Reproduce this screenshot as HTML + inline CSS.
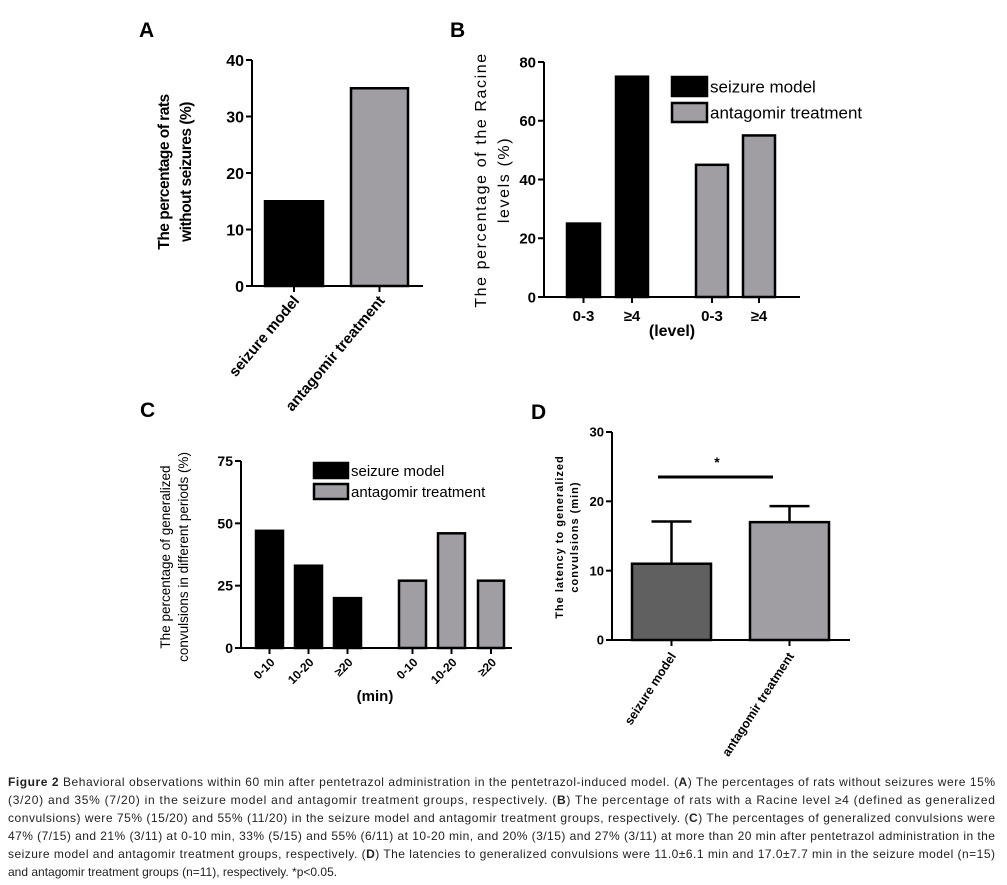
<!DOCTYPE html>
<html><head><meta charset="utf-8">
<style>
html,body{margin:0;padding:0;background:#fff;}
svg{display:block;font-family:"Liberation Sans",sans-serif;}
</style></head>
<body>
<svg id="fig" width="1007" height="885" viewBox="0 0 1007 885" xmlns="http://www.w3.org/2000/svg">
<rect x="0" y="0" width="1007" height="885" fill="#fff"/>
<g id="gA"></g>
<g id="gB"></g>
<g id="gC"></g>
<g id="gD"></g>
<text x="139" y="37" font-size="21" font-weight="bold">A</text>
<text x="450" y="37" font-size="21" font-weight="bold">B</text>
<text x="140" y="417" font-size="21" font-weight="bold">C</text>
<text x="531" y="419" font-size="21" font-weight="bold">D</text>
<g font-size="12" fill="#222">
<text x="8" y="786" textLength="987" lengthAdjust="spacing"><tspan font-weight="bold">Figure 2</tspan> Behavioral observations within 60 min after pentetrazol administration in the pentetrazol-induced model. (<tspan font-weight="bold">A</tspan>) The percentages of rats without seizures were 15%</text>
<text x="8" y="804" textLength="987" lengthAdjust="spacing">(3/20) and 35% (7/20) in the seizure model and antagomir treatment groups, respectively. (<tspan font-weight="bold">B</tspan>) The percentage of rats with a Racine level ≥4 (defined as generalized</text>
<text x="8" y="822" textLength="987" lengthAdjust="spacing">convulsions) were 75% (15/20) and 55% (11/20) in the seizure model and antagomir treatment groups, respectively. (<tspan font-weight="bold">C</tspan>) The percentages of generalized convulsions were</text>
<text x="8" y="840" textLength="987" lengthAdjust="spacing">47% (7/15) and 21% (3/11) at 0-10 min, 33% (5/15) and 55% (6/11) at 10-20 min, and 20% (3/15) and 27% (3/11) at more than 20 min after pentetrazol administration in the</text>
<text x="8" y="858" textLength="987" lengthAdjust="spacing">seizure model and antagomir treatment groups, respectively. (<tspan font-weight="bold">D</tspan>) The latencies to generalized convulsions were 11.0±6.1 min and 17.0±7.7 min in the seizure model (n=15)</text>
<text x="8" y="876">and antagomir treatment groups (n=11), respectively. *p&lt;0.05.</text>
</g>
</svg>
<script>
// Panel A data
const aCategories = ["seizure model", "antagomir treatment"];
const aValues = [15, 35];
const aTicks = [0, 10, 20, 30, 40];
// Panel B data
const bCategories = ["0-3", "≥4", "0-3", "≥4"];
const bValues = [25, 75, 45, 55];
const bTicks = [0, 20, 40, 60, 80];
// Panel C data
const cCategories = ["0-10", "10-20", "≥20", "0-10", "10-20", "≥20"];
const cValues = [47, 33, 20, 27, 46, 27];
const cTicks = [0, 25, 50, 75];
// Panel D data
const dCategories = ["seizure model", "antagomir treatment"];
const dMeans = [11.0, 17.0];
const dErrors = [6.1, 2.3];
const dTicks = [0, 10, 20, 30];
const legendLabels = ["seizure model", "antagomir treatment"];

const NS = "http://www.w3.org/2000/svg";
function mk(parent, tag, attrs) {
  const e = document.createElementNS(NS, tag);
  for (const k in attrs) e.setAttribute(k, attrs[k]);
  parent.appendChild(e);
  return e;
}
function scale(d0, d1, r0, r1) { return v => r0 + (v - d0) * (r1 - r0) / (d1 - d0); }

function axes(g, x0, y0, yTop, xEnd, ticks, y, fs) {
  const ax = mk(g, "line", {x1: x0, y1: yTop, x2: x0, y2: y0, stroke: "#000", "stroke-width": 2});
  
  
  const xa = mk(g, "line", {x1: x0 - 6, y1: y0, x2: xEnd, y2: y0, stroke: "#000", "stroke-width": 2});
  
  
  ticks.forEach(t => {
    const tl = mk(g, "line", {x1: x0 - 6, y1: y(t), x2: x0, y2: y(t), stroke: "#000", "stroke-width": 2});
    
    
    const tx = mk(g, "text", {x: x0 - 8, y: y(t) + fs * 0.36, "text-anchor": "end", "font-size": fs, "font-weight": "bold"});
    tx.textContent = t;
    
    
  });
}
function xtick(g, cx, y0) {
  const tl = mk(g, "line", {x1: cx, y1: y0, x2: cx, y2: y0 + 6, stroke: "#000", "stroke-width": 2});
  
  
}
function bar(g, x1, x2, yTop, yBot, fill, nm) {
  const r = mk(g, "rect", {x: x1, y: yTop, width: x2 - x1, height: yBot - yTop, fill: fill, stroke: "#000", "stroke-width": 2.5});
  
  
  return r;
}
function ytitle(g, lines, cx, cy, fs, extra) {
  lines.forEach((ln) => {
    const t = mk(g, "text", Object.assign({x: 0, y: 0, "text-anchor": "middle", "font-size": fs, transform: `translate(${ln.x},${cy}) rotate(-90)`}, extra));
    t.textContent = ln.t;
    
    
  });
}
function legend(g, x, y1, y2, w, h, fs) {
  [y1, y2].forEach((yy, i) => {
    const r = mk(g, "rect", {x: x, y: yy, width: w, height: h, fill: i ? "#a09ea3" : "#000", stroke: "#000", "stroke-width": 2.5});
    
    
    const t = mk(g, "text", {x: x + w + 3, y: yy + h * 0.5 + fs * 0.35, "font-size": fs});
    t.textContent = legendLabels[i];
    
    
  });
}

// ---- Panel A ----
(function () {
  const g = document.getElementById("gA");
  const y = scale(0, 40, 286, 60);
  axes(g, 252, 286, 60, 423, aTicks, y, 16);
  const xs = [[265, 323], [351, 408]];
  aValues.forEach((v, i) => {
    bar(g, xs[i][0], xs[i][1], y(v), 286, i ? "#a09ea3" : "#000", "bar-" + (i ? "antagomir" : "seizure"));
    const cx = (xs[i][0] + xs[i][1]) / 2;
    xtick(g, cx, 286);
    const t = mk(g, "text", {x: 0, y: 0, "text-anchor": "end", "font-size": 15, "font-weight": "bold", transform: `translate(${cx + 6},${301}) rotate(-50)`});
    t.textContent = aCategories[i];
    
    
  });
  ytitle(g, [{x: 169, t: "The percentage of rats"}, {x: 191, t: "without seizures (%)"}], 0, 172, 15.5, {"font-weight": "bold", "letter-spacing": "-0.5"});
})();

// ---- Panel B ----
(function () {
  const g = document.getElementById("gB");
  const y = scale(0, 80, 297, 62);
  axes(g, 544, 297, 62, 800, bTicks, y, 15);
  const xs = [[567, 600], [616, 648], [696, 728], [743, 775]];
  bValues.forEach((v, i) => {
    bar(g, xs[i][0], xs[i][1], y(v), 297, i >= 2 ? "#a09ea3" : "#000", "bar-" + i);
    xtick(g, (xs[i][0] + xs[i][1]) / 2, 297);
    const t = mk(g, "text", {x: (xs[i][0] + xs[i][1]) / 2, y: 321, "text-anchor": "middle", "font-size": 15, "font-weight": "bold"});
    t.textContent = bCategories[i];
    
    
  });
  const lv = mk(g, "text", {x: 672, y: 336, "text-anchor": "middle", "font-size": 16, "font-weight": "bold"});
  lv.textContent = "(level)";
  
  
  legend(g, 672, 77, 103, 35, 19, 17);
  ytitle(g, [{x: 486, t: "The percentage of the Racine"}, {x: 509, t: "levels (%)"}], 0, 180, 16, {"letter-spacing": "1.6"});
})();

// ---- Panel C ----
(function () {
  const g = document.getElementById("gC");
  const y = scale(0, 75, 648, 461);
  axes(g, 241, 648, 461, 512, cTicks, y, 14);
  const xs = [[256, 283], [295, 322], [334, 361], [399, 426], [438, 465], [478, 504]];
  cValues.forEach((v, i) => {
    bar(g, xs[i][0], xs[i][1], y(v), 648, i >= 3 ? "#a09ea3" : "#000", "bar-" + i);
    const cx = (xs[i][0] + xs[i][1]) / 2;
    xtick(g, cx, 648);
    const t = mk(g, "text", {x: 0, y: 0, "text-anchor": "end", "font-size": 12, "font-weight": "bold", transform: `translate(${cx + 6},${663}) rotate(-45)`});
    t.textContent = cCategories[i];
    
    
  });
  const mn = mk(g, "text", {x: 375, y: 701, "text-anchor": "middle", "font-size": 15, "font-weight": "bold"});
  mn.textContent = "(min)";
  
  
  legend(g, 314, 463, 484, 34, 15, 15);
  ytitle(g, [{x: 170, t: "The percentage of generalized"}, {x: 188, t: "convulsions in different periods (%)"}], 0, 557, 13.5, {});
})();

// ---- Panel D ----
(function () {
  const g = document.getElementById("gD");
  const y = scale(0, 30, 640, 432);
  axes(g, 612, 640, 432, 850, dTicks, y, 13);
  const xs = [[632, 711], [750, 829]];
  dMeans.forEach((v, i) => {
    const cx = (xs[i][0] + xs[i][1]) / 2;
    const top = y(v + dErrors[i]);
    const el = mk(g, "line", {x1: cx, y1: y(v), x2: cx, y2: top, stroke: "#000", "stroke-width": 2.5});
    
    
    const cap = mk(g, "line", {x1: cx - 20, y1: top, x2: cx + 20, y2: top, stroke: "#000", "stroke-width": 2.5});
    
    
    bar(g, xs[i][0], xs[i][1], y(v), 640, i ? "#a09ea3" : "#606060", "bar-" + (i ? "antagomir" : "seizure"));
    xtick(g, cx, 640);
    const t = mk(g, "text", {x: 0, y: 0, "text-anchor": "end", "font-size": 12.5, "font-weight": "bold", transform: `translate(${cx + 5},${656}) rotate(-57)`});
    t.textContent = dCategories[i];
    
    
  });
  const sl = mk(g, "line", {x1: 658, y1: 477, x2: 773, y2: 477, stroke: "#000", "stroke-width": 3});
  
  
  const st = mk(g, "text", {x: 717, y: 467, "text-anchor": "middle", "font-size": 14, "font-weight": "bold"});
  st.textContent = "*";
  
  
  ytitle(g, [{x: 563, t: "The latency to generalized"}, {x: 578, t: "convulsions (min)"}], 0, 537, 11, {"font-weight": "bold", "letter-spacing": "1"});
})();
</script>
</body></html>
